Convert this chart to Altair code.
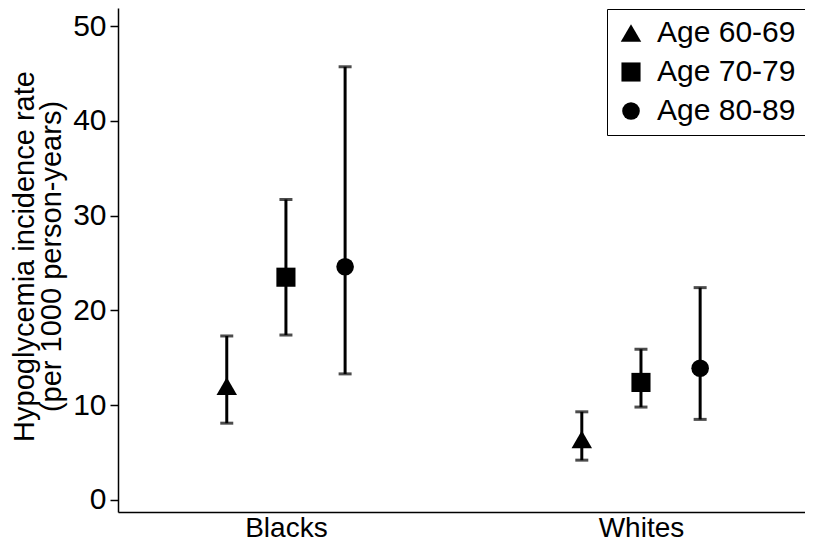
import altair as alt
import pandas as pd

groups = ["Blacks", "Whites"]
ages = ["Age 60-69", "Age 70-79", "Age 80-89"]
rate_blacks = [12.0, 23.5, 24.6]
lower_blacks = [8.1, 17.4, 13.3]
upper_blacks = [17.3, 31.7, 45.7]
rate_whites = [6.4, 12.4, 13.9]
lower_whites = [4.2, 9.8, 8.5]
upper_whites = [9.3, 15.9, 22.4]
y_ticks = [0, 10, 20, 30, 40, 50]

rows = []
for gi, (g, rates, lows, ups) in enumerate(
    [("Blacks", rate_blacks, lower_blacks, upper_blacks),
     ("Whites", rate_whites, lower_whites, upper_whites)]):
    for ai, a in enumerate(ages):
        rows.append({"group": g, "gi": gi + 1, "ai": ai, "age": a,
                     "rate": rates[ai], "lo": lows[ai], "hi": ups[ai]})
df = pd.DataFrame(rows)

FONT = "Liberation Sans"
label_expr = " : ".join(
    [f"datum.value == {i + 1} ? '{g}'" for i, g in enumerate(groups)]) + " : ''"

base = alt.Chart(df).transform_calculate(
    xpos="datum.gi + (datum.ai - 1) / 6"
)

xenc = alt.X("xpos:Q",
             scale=alt.Scale(domain=[0.527, 2.462], nice=False, zero=False),
             axis=alt.Axis(values=[1, 2], labelExpr=label_expr, ticks=False,
                           title=None, labelPadding=2, labelFlush=False,
                           labelFontSize=28, grid=False))
yscale = alt.Scale(domain=[-1.27, 51.9], nice=False, zero=False)

bars = base.mark_errorbar(color="black", thickness=3,
                          ticks={"size": 13}).encode(
    x=xenc,
    y=alt.Y("lo:Q", scale=yscale,
            axis=alt.Axis(values=y_ticks, title=["Hypoglycemia incidence rate",
                                                  "(per 1000 person-years)"],
                          titlePadding=6, titleLineHeight=27, titleY=248,
                          labelPadding=4, grid=False)),
    y2="hi:Q",
)

points = base.mark_point(filled=True, opacity=1, color="black").encode(
    x=xenc,
    y=alt.Y("rate:Q", scale=yscale),
    shape=alt.Shape("age:N", scale=alt.Scale(domain=ages,
                    range=["triangle-up", "square", "circle"]),
                    title=None),
    size=alt.Size("age:N", scale=alt.Scale(domain=ages, range=[420, 310, 290]),
                  title=None),
)

chart = alt.layer(bars, points).properties(
    width=687, height=504,
    autosize=alt.AutoSizeParams(type="none"),
    padding={"left": 110, "top": 0, "right": 0, "bottom": 35},
).configure_view(stroke=None).configure_axis(
    domainColor="black", domainWidth=1.5, tickColor="black", tickWidth=1.5,
    tickSize=8, labelColor="black", labelFontSize=30, labelFont=FONT,
    titleFont=FONT, titleFontSize=29, titleFontWeight="normal",
    titleColor="black",
).configure_legend(
    orient="none", legendX=489, legendY=1, strokeColor="black",
    fillColor="white", padding=9, labelFontSize=30, labelFont=FONT,
    labelColor="black", rowPadding=9, labelOffset=11,
    symbolFillColor="black", symbolStrokeColor="black", symbolOpacity=1,
)

chart.save("out.html", embed_options={"renderer": "svg", "actions": False})
